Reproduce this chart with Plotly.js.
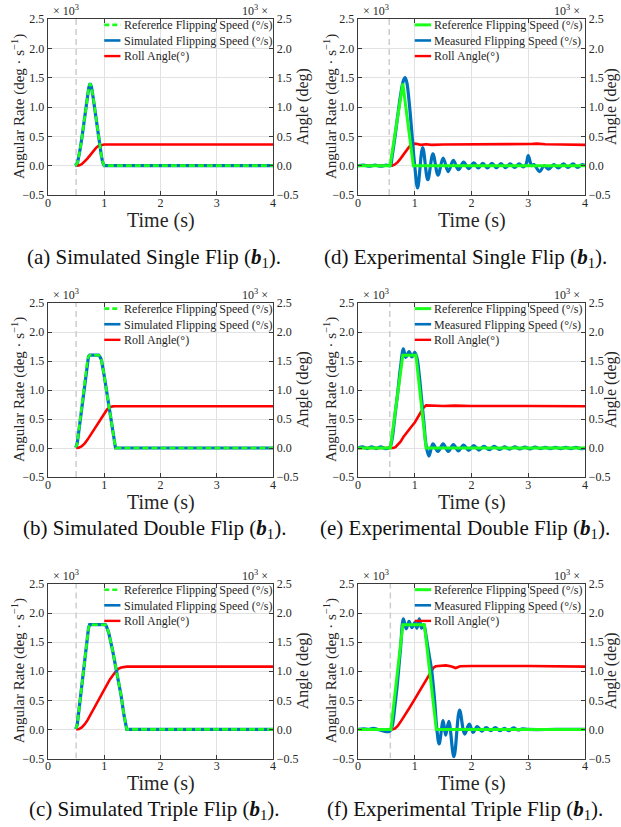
<!DOCTYPE html>
<html><head><meta charset="utf-8">
<script src="https://cdn.plot.ly/plotly-3.0.1.min.js"></script>
<style>html,body{margin:0;padding:0;background:#fff}</style>
</head><body><div id="chart" style="width:621px;height:827px"></div>
<script>
// ---------------- data ----------------
const xTicks = [0, 1, 2, 3, 4];
const yTicks = [-0.5, 0, 0.5, 1, 1.5, 2, 2.5];
// flip start (dashed marker), panels a, d, b, e, c, f
const flipStart = [0.5, 0.55, 0.5, 0.56, 0.5, 0.57];

// (a) simulated single flip
const aRefT = [0.49, 0.5, 0.525, 0.55, 0.575, 0.6, 0.65, 0.7, 0.725, 0.74, 0.75, 0.76, 0.775, 0.8, 0.85, 0.9, 0.925, 0.95, 0.975, 1.0, 4.0];
const aRefV = [0.04, 0.02, 0.05, 0.16, 0.3, 0.46, 0.83, 1.18, 1.33, 1.38, 1.40, 1.38, 1.33, 1.18, 0.83, 0.46, 0.3, 0.16, 0.05, 0.0, 0.0];
const aSimT = [0.49, 0.5, 0.525, 0.55, 0.575, 0.6, 0.65, 0.7, 0.725, 0.74, 0.75, 0.76, 0.775, 0.8, 0.85, 0.9, 0.925, 0.95, 0.975, 1.0, 4.0];
const aSimV = [0.04, 0.02, 0.05, 0.16, 0.3, 0.46, 0.83, 1.18, 1.33, 1.38, 1.40, 1.38, 1.33, 1.18, 0.83, 0.46, 0.3, 0.16, 0.05, 0.0, 0.0];
const aRollT = [0.5, 0.55, 0.6, 0.65, 0.7, 0.75, 0.8, 0.85, 0.9, 0.95, 1.0, 4.0];
const aRollV = [0, 0.005, 0.025, 0.065, 0.12, 0.18, 0.245, 0.3, 0.34, 0.356, 0.36, 0.36];

// (b) simulated double flip
const bRefT = [0.49, 0.5, 0.52, 0.55, 0.6, 0.65, 0.7, 0.72, 0.74, 0.9, 0.92, 0.95, 1.0, 1.05, 1.1, 1.15, 1.18, 1.2, 4.0];
const bRefV = [0.04, 0.02, 0.08, 0.3, 0.7, 1.12, 1.5, 1.58, 1.6, 1.6, 1.58, 1.52, 1.24, 0.92, 0.6, 0.28, 0.08, 0.0, 0.0];
const bSimT = [0.49, 0.5, 0.52, 0.55, 0.6, 0.65, 0.7, 0.72, 0.74, 0.9, 0.92, 0.95, 1.0, 1.05, 1.1, 1.15, 1.18, 1.2, 4.0];
const bSimV = [0.04, 0.02, 0.08, 0.3, 0.7, 1.12, 1.5, 1.58, 1.6, 1.6, 1.58, 1.52, 1.24, 0.92, 0.6, 0.28, 0.08, 0.0, 0.0];
const bRollT = [0.5, 0.55, 0.6, 0.65, 0.7, 0.75, 0.8, 0.85, 0.9, 0.95, 1.0, 1.05, 1.1, 1.15, 1.2, 4.0];
const bRollV = [0, 0.006, 0.03, 0.075, 0.14, 0.215, 0.295, 0.375, 0.455, 0.535, 0.61, 0.665, 0.7, 0.718, 0.72, 0.72];

// (c) simulated triple flip
const cRefT = [0.49, 0.5, 0.52, 0.55, 0.6, 0.65, 0.7, 0.72, 0.74, 1.02, 1.04, 1.08, 1.15, 1.2, 1.25, 1.3, 1.35, 1.38, 1.4, 4.0];
const cRefV = [0.04, 0.02, 0.08, 0.32, 0.75, 1.2, 1.62, 1.74, 1.8, 1.8, 1.77, 1.66, 1.35, 1.1, 0.85, 0.58, 0.25, 0.06, 0.0, 0.0];
const cSimT = [0.49, 0.5, 0.52, 0.55, 0.6, 0.65, 0.7, 0.72, 0.74, 1.02, 1.04, 1.08, 1.15, 1.2, 1.25, 1.3, 1.35, 1.38, 1.4, 4.0];
const cSimV = [0.04, 0.02, 0.08, 0.32, 0.75, 1.2, 1.62, 1.74, 1.8, 1.8, 1.77, 1.66, 1.35, 1.1, 0.85, 0.58, 0.25, 0.06, 0.0, 0.0];
const cRollT = [0.5, 0.55, 0.6, 0.65, 0.7, 0.75, 0.8, 0.9, 1.0, 1.1, 1.2, 1.25, 1.3, 1.35, 1.4, 4.0];
const cRollV = [0, 0.007, 0.035, 0.085, 0.155, 0.24, 0.33, 0.51, 0.69, 0.86, 0.99, 1.04, 1.065, 1.078, 1.08, 1.08];

// (d) experimental single flip
const dRefT = [0, 0.565, 0.79, 0.975, 4.0];
const dRefV = [0, 0, 1.4, 0, 0];
const dMeasT = [0, 0.1, 0.2, 0.3, 0.4, 0.5, 0.57, 0.6, 0.65, 0.7, 0.75, 0.8, 0.83, 0.86, 0.9, 0.95, 0.98, 1.0, 1.05,
  1.14, 1.23, 1.32, 1.41, 1.5, 1.59, 1.68, 1.77, 1.86, 1.95, 2.04, 2.12, 2.2, 2.28, 2.36, 2.44, 2.52, 2.6, 2.68, 2.76,
  2.84, 2.91, 2.96, 3.0, 3.06, 3.1, 3.2, 3.28, 3.36, 3.45, 3.53, 3.62, 3.7, 3.79, 3.87, 3.95, 4.0];
const dMeasV = [0, 0.01, -0.01, 0.01, -0.01, 0.01, 0, 0.15, 0.48, 0.85, 1.2, 1.45, 1.5, 1.42, 1.1, 0.55, 0.2, 0.0, -0.38,
  0.31, -0.24, 0.2, -0.16, 0.13, -0.1, 0.09, -0.07, 0.06, -0.05, 0.05, -0.04, 0.04, -0.04, 0.04, -0.035, 0.035, -0.035, 0.03, -0.03,
  0.03, -0.02, 0.02, 0.17, 0.0, 0.02, -0.1, 0.0, -0.06, 0.02, -0.04, 0.03, -0.03, 0.03, -0.03, 0.02, 0.0];
const dRollT = [0, 0.6, 0.65, 0.7, 0.75, 0.8, 0.85, 0.9, 0.95, 1.0, 1.05, 1.1, 1.2, 1.3, 1.5, 2.0, 2.5, 2.9, 3.05, 3.15, 3.3, 3.6, 4.0];
const dRollV = [0, 0, 0.02, 0.06, 0.12, 0.19, 0.26, 0.32, 0.365, 0.375, 0.37, 0.355, 0.365, 0.355, 0.36, 0.36, 0.36, 0.36, 0.37, 0.375, 0.365, 0.36, 0.355];

// (e) experimental double flip
const eRefT = [0, 0.57, 0.79, 1.02, 1.2, 4.0];
const eRefV = [0, 0, 1.6, 1.6, 0, 0];
const eMeasT = [0, 0.08, 0.16, 0.24, 0.32, 0.4, 0.48, 0.56, 0.6, 0.65, 0.7, 0.75, 0.8, 0.84, 0.9, 0.95, 1.0, 1.04, 1.08,
  1.12, 1.16, 1.2, 1.25, 1.32, 1.41, 1.5, 1.59, 1.68, 1.77, 1.86, 1.95, 2.04, 2.13, 2.22, 2.31, 2.4, 2.49, 2.58, 2.67,
  2.76, 2.85, 2.94, 3.03, 3.12, 3.21, 3.3, 3.39, 3.48, 3.57, 3.66, 3.75, 3.84, 3.93, 4.0];
const eMeasV = [0, 0.02, -0.01, 0.02, -0.01, 0.02, -0.01, 0.01, 0.15, 0.55, 0.95, 1.4, 1.71, 1.56, 1.66, 1.57, 1.65, 1.55, 1.25,
  0.85, 0.45, 0.05, -0.14, 0.07, -0.06, 0.07, -0.06, 0.06, -0.05, 0.05, -0.04, 0.04, -0.035, 0.03, -0.03, 0.03, -0.025, 0.02, -0.02,
  0.02, -0.015, 0.015, -0.015, 0.015, -0.01, 0.01, -0.01, 0.01, -0.01, 0.01, -0.01, 0.01, -0.01, 0.0];
const eRollT = [0, 0.62, 0.66, 0.7, 0.75, 0.8, 0.85, 0.9, 0.95, 1.0, 1.05, 1.1, 1.15, 1.2, 1.3, 1.5, 1.7, 2.0, 3.0, 4.0];
const eRollV = [0, 0, 0.015, 0.05, 0.11, 0.19, 0.26, 0.32, 0.38, 0.44, 0.52, 0.6, 0.69, 0.735, 0.73, 0.725, 0.73, 0.725, 0.725, 0.72];

// (f) experimental triple flip
const fRefT = [0, 0.58, 0.79, 1.17, 1.38, 4.0];
const fRefV = [0, 0, 1.8, 1.8, 0, 0];
const fMeasT = [0, 0.1, 0.2, 0.27, 0.35, 0.42, 0.5, 0.56, 0.6, 0.65, 0.7, 0.75, 0.8, 0.85, 0.9, 0.95, 1.0, 1.04, 1.08,
  1.12, 1.16, 1.2, 1.25, 1.3, 1.35, 1.39, 1.43, 1.5, 1.545, 1.6, 1.69, 1.79, 1.88, 1.96, 2.03, 2.1, 2.18, 2.26, 2.34,
  2.42, 2.5, 2.58, 2.66, 2.74, 2.82, 2.9, 3.0, 3.5, 4.0];
const fMeasV = [0, 0.01, 0.0, 0.02, 0.0, -0.02, -0.04, -0.03, 0.05, 0.4, 0.85, 1.4, 1.9, 1.73, 1.86, 1.75, 1.84, 1.74, 1.9,
  1.74, 1.8, 1.6, 1.3, 1.0, 0.5, 0.0, -0.25, 0.15, -0.1, 0.14, -0.47, 0.33, -0.08, 0.09, -0.05, 0.05, -0.03, 0.03, -0.02,
  0.03, -0.02, 0.02, -0.02, 0.025, -0.01, 0.01, 0.0, 0.0, 0.0];
const fRollT = [0, 0.6, 0.65, 0.7, 0.75, 0.8, 0.9, 1.0, 1.1, 1.2, 1.28, 1.33, 1.37, 1.45, 1.55, 1.65, 1.72, 1.8, 2.0, 3.0, 4.0];
const fRollV = [0, 0, 0.015, 0.06, 0.13, 0.2, 0.36, 0.52, 0.68, 0.85, 0.98, 1.06, 1.085, 1.09, 1.1, 1.08, 1.055, 1.085, 1.09, 1.09, 1.08];

const legendRef = 'Reference Flipping Speed (°/s)';
const legendSim = 'Simulated Flipping Speed (°/s)';
const legendMeas = 'Measured Flipping Speed (°/s)';
const legendRoll = 'Roll Angle(°)';
const xTitle = 'Time (s)';
const yLeftTitle = 'Angular Rate (deg · s<sup>−1</sup>)';
const yRightTitle = 'Angle (deg)';
const captions = [
  '(a) Simulated Single Flip (<b><i>b</i></b><sub>1</sub>).',
  '(d) Experimental Single Flip (<b><i>b</i></b><sub>1</sub>).',
  '(b) Simulated Double Flip (<b><i>b</i></b><sub>1</sub>).',
  '(e) Experimental Double Flip (<b><i>b</i></b><sub>1</sub>).',
  '(c) Simulated Triple Flip (<b><i>b</i></b><sub>1</sub>).',
  '(f) Experimental Triple Flip (<b><i>b</i></b><sub>1</sub>).'
];

// ---------------- styling / layout ----------------
const FONT = 'Liberation Serif, Times New Roman, serif';
const AX = '#3a3a3a', TXT = '#262626', GRID = '#e2e2e2';
const GREEN = '#1aff1a', BLUE = '#0072bd', RED = '#ff0000';
const W = 621, H = 827;
const xL = [48 / W, 273 / W], xR = [358 / W, 585 / W];
const rows = [[1 - 195 / H, 1 - 19 / H], [1 - 477 / H, 1 - 303 / H], [1 - 758.5 / H, 1 - 584 / H]];
const capY = [1 - 258 / H, 1 - 529 / H, 1 - 810 / H];
const capX = [154 / W, 465 / W];
const LEG_FS = 12, LEG_STEP = 1.3 * LEG_FS;

const panels = [
  {col: 0, row: 0, ref: [aRefT, aRefV], meas: [aSimT, aSimV], roll: [aRollT, aRollV], sim: true},
  {col: 1, row: 0, ref: [dRefT, dRefV], meas: [dMeasT, dMeasV], roll: [dRollT, dRollV], sim: false},
  {col: 0, row: 1, ref: [bRefT, bRefV], meas: [bSimT, bSimV], roll: [bRollT, bRollV], sim: true},
  {col: 1, row: 1, ref: [eRefT, eRefV], meas: [eMeasT, eMeasV], roll: [eRollT, eRollV], sim: false},
  {col: 0, row: 2, ref: [cRefT, cRefV], meas: [cSimT, cSimV], roll: [cRollT, cRollV], sim: true},
  {col: 1, row: 2, ref: [fRefT, fRefV], meas: [fMeasT, fMeasV], roll: [fRollT, fRollV], sim: false}
];

const traces = [];
const layout = {
  width: W, height: H, margin: {l: 0, r: 0, t: 0, b: 0},
  paper_bgcolor: '#fff', plot_bgcolor: '#fff', showlegend: false,
  font: {family: FONT, color: TXT, size: 12},
  annotations: [], shapes: []
};

function axName(prefix, i) { return i === 1 ? prefix : prefix + i; }

panels.forEach((p, k) => {
  const xi = k + 1, yb = 2 * k + 1, yo = 2 * k + 2;
  const xn = axName('x', xi), ybn = axName('y', yb), yon = axName('y', yo);
  const xdom = p.col === 0 ? xL : xR;
  const ydom = rows[p.row];

  traces.push({x: [flipStart[k], flipStart[k]], y: [yTicks[0], yTicks[yTicks.length - 1]], xaxis: xn, yaxis: ybn,
    mode: 'lines', line: {color: '#cdcdcd', width: 1.5, dash: '6px,4px'}, hoverinfo: 'skip'});
  traces.push({x: p.roll[0], y: p.roll[1], xaxis: xn, yaxis: ybn, mode: 'lines',
    line: {color: RED, width: 2.6, shape: 'linear'}});
  traces.push({x: p.meas[0], y: p.meas[1], xaxis: xn, yaxis: yon, mode: 'lines',
    line: p.sim ? {color: BLUE, width: 3.2, shape: 'linear'} : {color: BLUE, width: 3.2, shape: 'spline', smoothing: 1}});
  traces.push({x: p.ref[0], y: p.ref[1], xaxis: xn, yaxis: yon, mode: 'lines',
    line: p.sim ? {color: GREEN, width: 2.6, dash: '6px,3px', shape: 'linear'}
                : {color: GREEN, width: 3, shape: 'linear'}});

  const common = {
    showline: true, linecolor: AX, linewidth: 1.3, ticks: 'inside', ticklen: 4, tickcolor: AX, tickwidth: 1,
    zeroline: false, tickfont: {family: FONT, size: 12, color: TXT}
  };
  layout['xaxis' + (xi === 1 ? '' : xi)] = Object.assign({}, common, {
    domain: xdom, anchor: ybn, range: [xTicks[0], xTicks[xTicks.length - 1]], tickvals: xTicks,
    showgrid: true, gridcolor: GRID, gridwidth: 1, mirror: 'ticks', ticklabelstandoff: -4
  });
  layout['yaxis' + (yb === 1 ? '' : yb)] = Object.assign({}, common, {
    domain: ydom, anchor: xn, side: 'right', range: [yTicks[0], yTicks[yTicks.length - 1]], tickvals: yTicks,
    tickformat: '.1f', showgrid: true, gridcolor: GRID, gridwidth: 1
  });
  layout['yaxis' + yo] = Object.assign({}, common, {
    overlaying: ybn, anchor: xn, side: 'left', range: [yTicks[0], yTicks[yTicks.length - 1]], tickvals: yTicks,
    tickformat: '.1f', showgrid: false
  });

  const xr = xn + ' domain', yr = ybn + ' domain';
  // axis titles
  layout.annotations.push({xref: xr, yref: yr, x: 0.5, y: 0, xanchor: 'center', yanchor: 'middle', yshift: -25,
    showarrow: false, text: xTitle, font: {family: FONT, size: 20, color: TXT}});
  layout.annotations.push({xref: xr, yref: yr, x: 0, y: 0.5, xanchor: 'center', yanchor: 'middle', textangle: -90,
    xshift: p.col === 0 ? -30 : -28, showarrow: false, text: yLeftTitle, font: {family: FONT, size: 15, color: TXT}});
  layout.annotations.push({xref: xr, yref: yr, x: 1, y: 0.5, xanchor: 'center', yanchor: 'middle', textangle: -90,
    xshift: p.col === 0 ? 30 : 26, showarrow: false, text: yRightTitle, font: {family: FONT, size: 16, color: TXT}});

  layout.annotations.push({xref: xr, yref: yr, x: 0.015, y: 1, xanchor: 'left', yanchor: 'bottom', showarrow: false,
    text: '× 10<sup>3</sup>', font: {family: FONT, size: 12, color: TXT}, yshift: -1});
  layout.annotations.push({xref: xr, yref: yr, x: 0.985, y: 1, xanchor: 'right', yanchor: 'bottom', showarrow: false,
    text: '10<sup>3</sup> ×', font: {family: FONT, size: 12, color: TXT}, yshift: -1});

  // legend (manual, no box)
  const legMid = 0.878;
  const legItems = [
    {text: legendRef, line: p.sim ? {color: GREEN, width: 2.6, dash: '5px,3px'} : {color: GREEN, width: 3}},
    {text: p.sim ? legendSim : legendMeas, line: {color: BLUE, width: 2.6}},
    {text: legendRoll, line: {color: RED, width: 2.4}}
  ];
  legItems.forEach((it, j) => {
    const off = (1 - j) * LEG_STEP;
    layout.shapes.push({type: 'line', xref: xr, yref: yr, ysizemode: 'pixel', yanchor: legMid,
      x0: 0.25, x1: 0.322, y0: off, y1: off, line: it.line});
  });
  layout.annotations.push({xref: xr, yref: yr, x: 0.328, y: legMid, xanchor: 'left', yanchor: 'middle', align: 'left',
    showarrow: false, text: legItems.map(it => it.text).join('<br>'), font: {family: FONT, size: LEG_FS, color: TXT}});

  layout.annotations.push({xref: 'paper', yref: 'paper', x: capX[p.col], y: capY[p.row], xanchor: 'center', yanchor: 'middle',
    showarrow: false, text: captions[k], font: {family: FONT, size: 21, color: '#111'}});
});

Plotly.newPlot('chart', traces, layout, {displayModeBar: false, staticPlot: true});
</script>
</body></html>
